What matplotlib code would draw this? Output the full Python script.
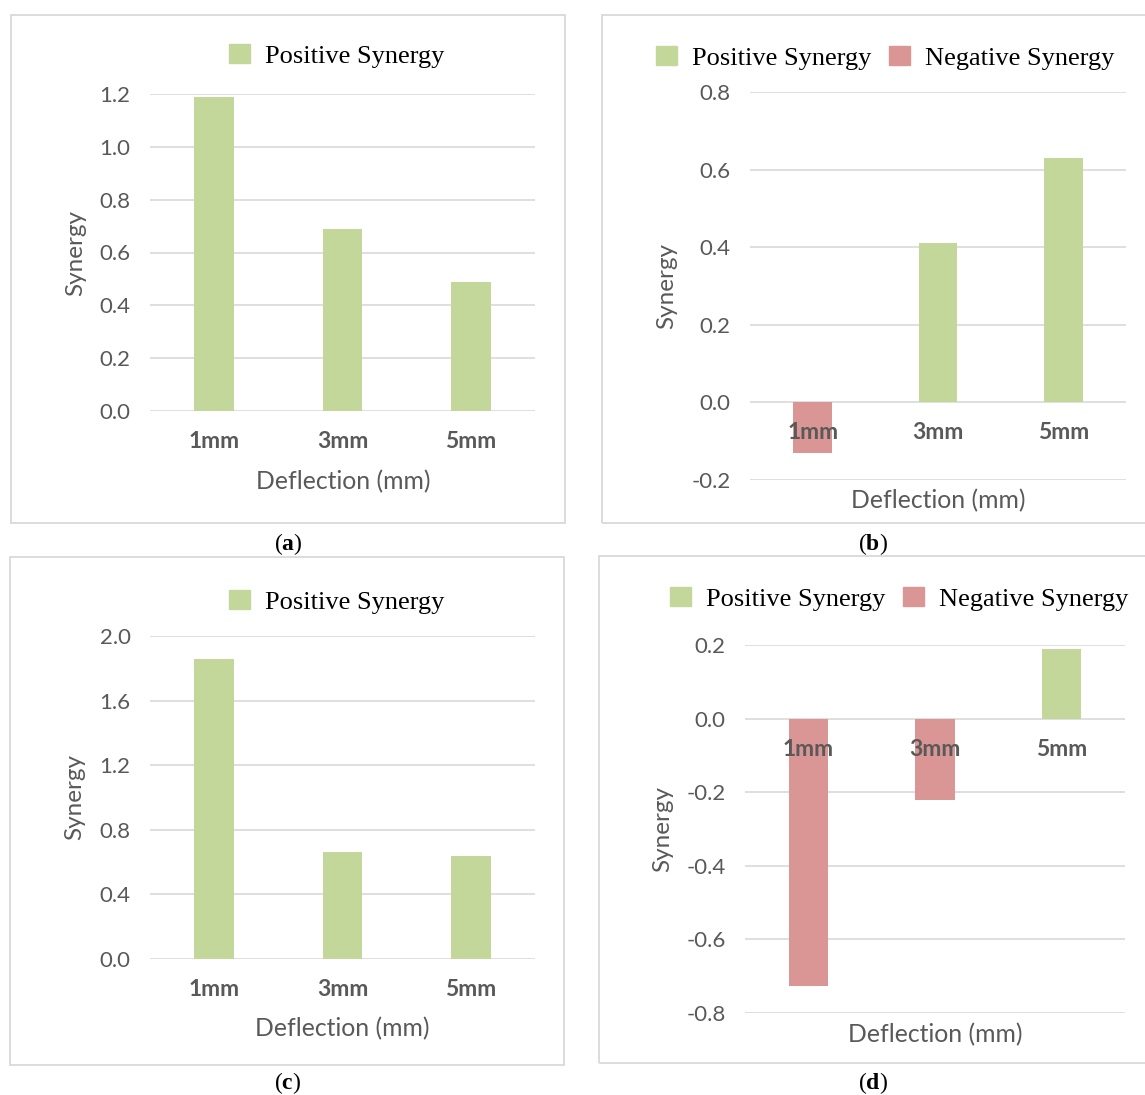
import matplotlib.pyplot as plt
from matplotlib.patches import Rectangle, Patch
import numpy as np

W, H = 1145, 1095

categories = ['1mm', '3mm', '5mm']

# positive / negative series for each panel
pos_a = [1.19, 0.69, 0.49]
pos_b = [0.0, 0.41, 0.63]
neg_b = [-0.13, 0.0, 0.0]
pos_c = [1.86, 0.66, 0.64]
pos_d = [0.0, 0.0, 0.19]
neg_d = [-0.726, -0.22, 0.0]

ticks_a = [0.0, 0.2, 0.4, 0.6, 0.8, 1.0, 1.2]
ticks_b = [-0.2, 0.0, 0.2, 0.4, 0.6, 0.8]
ticks_c = [0.0, 0.4, 0.8, 1.2, 1.6, 2.0]
ticks_d = [-0.8, -0.6, -0.4, -0.2, 0.0, 0.2]

GREEN = '#C4D79B'
RED = '#D99694'
GRAY = '#595959'
GRID = '#D9D9D9'
SANS = 'Lato'
SERIF = 'Liberation Serif'

plt.rcParams['mathtext.fontset'] = 'custom'
plt.rcParams['mathtext.rm'] = SERIF
plt.rcParams['mathtext.bf'] = SERIF + ':bold'


def fx(x):
    return x / W


def fy(y):
    return 1 - y / H


fig = plt.figure(figsize=(W / 100, H / 100), dpi=100)


def panel(box, plot, pos, neg, ticks, leg, ylab, xlab, cap, letter):
    # panel border
    x0, y0, x1, y1 = box
    fig.patches.append(Rectangle((fx(x0), fy(y1)), fx(x1 - x0), (y1 - y0) / H,
                                 transform=fig.transFigure, fill=False,
                                 edgecolor=GRID, lw=1.3))
    l, t, r, b = plot
    ax = fig.add_axes([fx(l), fy(b), fx(r - l), (b - t) / H])
    x = np.arange(len(categories))
    ax.bar(x, pos, width=0.31, color=GREEN, zorder=3)
    if neg is not None:
        ax.bar(x, neg, width=0.31, color=RED, zorder=3)
    ax.set_xlim(-0.5, 2.5)
    ax.set_ylim(ticks[0], ticks[-1])
    ax.set_yticks(ticks)
    ax.set_yticklabels([f'{v:.1f}' for v in ticks], fontsize=16, color=GRAY,
                       fontname=SANS)
    ax.tick_params(length=0, pad=14)
    ax.set_xticks([])
    ax.yaxis.grid(True, color=GRID, lw=1.2, zorder=0)
    for s in ax.spines.values():
        s.set_visible(False)
    for xi, c in zip(x, categories):
        ax.annotate(c, (xi, 0), xytext=(0, -22), textcoords='offset points',
                    ha='center', va='center', fontsize=16.5, fontweight='bold',
                    color=GRAY, fontname=SANS, zorder=5)
    fig.text(fx(ylab[0]), fy(ylab[1]), 'Synergy', rotation=90, ha='center',
             va='center', fontsize=17.5, color=GRAY, fontname=SANS)
    fig.text(fx(xlab[0]), fy(xlab[1]), 'Deflection (mm)', ha='center',
             va='center', fontsize=17.8, color=GRAY, fontname=SANS)
    handles = [Patch(color=GREEN, label='Positive Synergy')]
    if neg is not None:
        handles.append(Patch(color=RED, label='Negative Synergy'))
    fig.legend(handles=handles, loc='center left',
               bbox_to_anchor=(fx(leg[0]), fy(leg[1])), ncol=2, frameon=False,
               prop={'family': SERIF, 'size': 19}, handlelength=0.8,
               handleheight=0.72, handletextpad=0.55, columnspacing=0.68,
               borderpad=0, borderaxespad=0)
    fig.text(fx(cap[0]), fy(cap[1]), '(' + r'$\mathbf{' + letter + '}$' + ')',
             ha='center', va='center', fontsize=17, fontname=SERIF)
    return ax


panel((11, 15, 565, 523), (150, 94, 535, 411), pos_a, None, ticks_a,
      (229, 56), (76, 253), (343, 482), (288, 544), 'a')
panel((602, 15, 1160, 523), (750, 92, 1126, 480), pos_b, neg_b, ticks_b,
      (656, 58), (667, 286), (938, 501), (873, 544), 'b')
panel((10, 557, 564, 1065), (150, 636, 535, 959), pos_c, None, ticks_c,
      (229, 602), (75, 797), (342, 1029), (288, 1083), 'c')
panel((599, 556, 1160, 1063), (745, 645, 1125, 1013), pos_d, neg_d, ticks_d,
      (670, 599), (663, 829), (935, 1035), (873, 1083), 'd')

fig.savefig('out.png', dpi=100)
